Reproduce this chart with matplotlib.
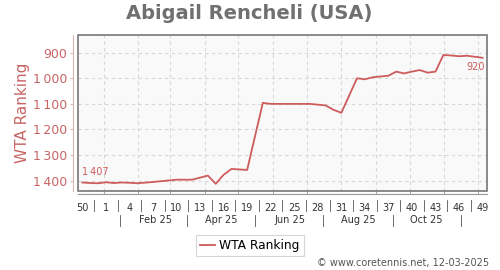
import datetime as dt
import matplotlib
matplotlib.use("Agg")
import matplotlib.pyplot as plt
import matplotlib.transforms as mtransforms
from matplotlib.patches import Rectangle
from matplotlib.ticker import FuncFormatter

# weekly ranking, x = weeks since the first point (week 50 of 2024)
week_idx = [0, 1, 2, 3, 4, 5, 6, 7, 9, 12, 14, 16, 17, 18, 19, 21, 23, 24, 29,
            31, 32, 33, 35, 36, 37, 39, 40, 41, 42, 43, 44, 45, 46, 47, 48, 49, 51]
ranking = [1407, 1409, 1410, 1406, 1409, 1407, 1408, 1410, 1405, 1396, 1396,
           1380, 1412, 1377, 1354, 1358, 1096, 1100, 1100, 1106, 1123, 1135,
           1000, 1004, 996, 990, 974, 981, 974, 968, 978, 974, 909, 911, 914,
           912, 920]

week_ticks = list(range(0, 52, 3))
week_labels = [str((i - 3) % 52 + 1) for i in week_ticks]
month_labels = ["Feb 25", "Apr 25", "Jun 25", "Aug 25", "Oct 25"]
y_ticks = [900, 1000, 1100, 1200, 1300, 1400]

start = dt.date(2024, 12, 13)


def widx(d):
    return (d - start).days / 7.0


red = "#cd5c5c"
red_txt = "#c86464"

fig = plt.figure(figsize=(5, 2.7), dpi=100)
ax = fig.add_axes([0.1566, 0.2937, 0.818, 0.5767])
ax.set_facecolor("#f9f9f9")

ax.plot(week_idx, ranking, color=red, lw=1.3, label="WTA Ranking", zorder=3)

ax.set_xlim(-0.51, 51.6)
ax.set_ylim(1439, 831)

# grid: months vertically, ranks horizontally
month_starts = [widx(dt.date(2025, m, 1)) for m in range(1, 13)]
for x in month_starts:
    ax.axvline(x, color="#d6d6d6", lw=0.8, ls=(0, (3, 3)), zorder=1)
for y in y_ticks:
    ax.axhline(y, color="#d6d6d6", lw=0.8, ls=(0, (3, 3)), zorder=1)

# frame
ax.add_patch(Rectangle((0, 0), 1, 1, transform=ax.transAxes, fill=False,
                       edgecolor="#777777", lw=1.2, zorder=4, clip_on=False))
ax.spines["top"].set_visible(False)
ax.spines["right"].set_visible(False)
ax.spines["left"].set_position(("outward", 3.6))
ax.spines["left"].set_color("#e0b4b4")
ax.spines["bottom"].set_position(("outward", 2.6))
ax.spines["bottom"].set_color("#999999")

ax.set_yticks(y_ticks)
ax.yaxis.set_major_formatter(FuncFormatter(lambda v, p: f"{int(v):,}".replace(",", "\u2009")))
ax.tick_params(axis="y", colors="#e0b4b4", labelcolor=red_txt, labelsize=9,
               length=2.5, width=0.8, pad=2)

ax.set_xticks(week_ticks)
ax.set_xticklabels(week_labels)
ax.set_xticks(month_starts, minor=True)
ax.tick_params(axis="x", which="major", length=0, labelsize=7, labelcolor="#333333", pad=6)
ax.tick_params(axis="x", which="minor", direction="in", length=2, color="#999999")

trans = mtransforms.blended_transform_factory(ax.transData, ax.transAxes)
# separators between week labels
for i in week_ticks[:-1]:
    ax.plot([i + 1.5, i + 1.5], [-0.06, -0.13], color="#555555", lw=0.6,
            transform=trans, clip_on=False)
# month row
for k, lab in enumerate(month_labels):
    m = 2 + 2 * k
    ax.text(widx(dt.date(2025, m, 16)), -0.19, lab, transform=trans, ha="center",
            va="center", fontsize=7, color="#333333")
for m in [1, 3, 5, 7, 9, 11]:
    x = widx(dt.date(2025, m, 16))
    ax.plot([x, x], [-0.155, -0.225], color="#555555", lw=0.6,
            transform=trans, clip_on=False)

ax.set_ylabel("WTA Ranking", color=red_txt, fontsize=11, labelpad=6)
ax.yaxis.set_label_coords(-0.117, 0.5)

# first and last values
ax.annotate(f"{ranking[0]:,}".replace(",", "\u2009"), (week_idx[0], ranking[0]),
            xytext=(0, 4), textcoords="offset points", ha="left", va="bottom",
            fontsize=7, color=red)
ax.annotate(str(ranking[-1]), (week_idx[-1], ranking[-1]),
            xytext=(2, -3), textcoords="offset points", ha="right", va="top",
            fontsize=7, color=red)

fig.text(0.498, 0.95, "Abigail Rencheli (USA)", ha="center", va="center",
         fontsize=14, fontweight="bold", color="#707070")

leg = ax.legend(loc="center", bbox_to_anchor=(0.5, 1 - 245.5 / 270),
                bbox_transform=fig.transFigure, fontsize=8.8, frameon=True,
                fancybox=False, handlelength=1.2, handletextpad=0.35,
                borderpad=0.35, borderaxespad=0)
leg.get_frame().set_edgecolor("#cccccc")
leg.get_frame().set_linewidth(0.8)

fig.text(0.978, 1 - 263 / 270, "\u00a9 www.coretennis.net, 12-03-2025",
         ha="right", va="center", fontsize=7, color="#555555")

fig.savefig("out.png", dpi=100)
